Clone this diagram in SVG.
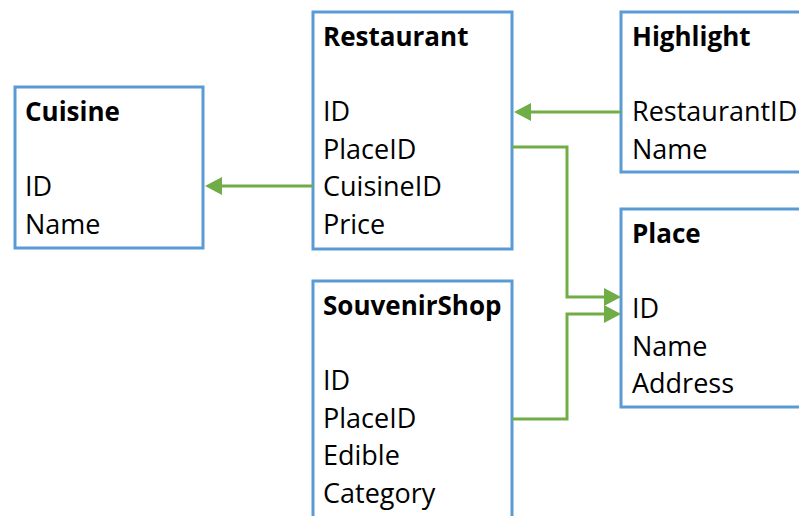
<svg xmlns="http://www.w3.org/2000/svg" width="799" height="516" viewBox="0 0 799 516">
  <style>
    .box { fill: #ffffff; stroke: #5b9bd5; stroke-width: 3; }
    .title { font-family: "Open Sans", "Noto Sans", sans-serif; font-weight: bold; font-size: 26px; fill: #000000; }
    .field { font-family: "Open Sans", "Noto Sans", sans-serif; font-size: 27px; fill: #000000; }
    .link { fill: none; stroke: #70ad47; stroke-width: 3; stroke-linejoin: miter; }
  </style>
  <defs>
    <marker id="arrow" viewBox="0 0 17 18" markerWidth="17" markerHeight="18" refX="7" refY="9" orient="auto" markerUnits="userSpaceOnUse">
      <path d="M0,0 L17,9 L0,18 z" fill="#70ad47"/>
    </marker>
  </defs>
  <rect width="799" height="516" fill="#ffffff"/>

  <!-- tables -->
  <g id="cuisine">
    <rect class="box" x="15" y="87" width="188" height="161"/>
    <text class="title" x="25" y="121">Cuisine</text>
    <text class="field" x="25" y="196">ID</text>
    <text class="field" x="25" y="234">Name</text>
  </g>

  <g id="restaurant">
    <rect class="box" x="313" y="12" width="199" height="237"/>
    <text class="title" x="323" y="46">Restaurant</text>
    <text class="field" x="323" y="121">ID</text>
    <text class="field" x="323" y="159">PlaceID</text>
    <text class="field" x="323" y="196">CuisineID</text>
    <text class="field" x="323" y="234">Price</text>
  </g>

  <g id="highlight">
    <rect class="box" x="621" y="12" width="210" height="160"/>
    <text class="title" x="632" y="46">Highlight</text>
    <text class="field" x="632" y="121">RestaurantID</text>
    <text class="field" x="632" y="159">Name</text>
  </g>

  <g id="place">
    <rect class="box" x="621" y="209" width="210" height="198"/>
    <text class="title" x="632" y="243">Place</text>
    <text class="field" x="632" y="318">ID</text>
    <text class="field" x="632" y="356">Name</text>
    <text class="field" x="632" y="393">Address</text>
  </g>

  <g id="souvenirshop">
    <rect class="box" x="313" y="281" width="199" height="260"/>
    <text class="title" x="323" y="315">SouvenirShop</text>
    <text class="field" x="323" y="390">ID</text>
    <text class="field" x="323" y="428">PlaceID</text>
    <text class="field" x="323" y="465">Edible</text>
    <text class="field" x="323" y="503">Category</text>
  </g>

  <!-- foreign-key links -->
  <g id="connectors">
    <path class="link" d="M313,186 L215,186" marker-end="url(#arrow)"/>
    <path class="link" d="M621,112 L524,112" marker-end="url(#arrow)"/>
    <path class="link" d="M512,147 L567,147 L567,297 L611,297" marker-end="url(#arrow)"/>
    <path class="link" d="M512,419 L567,419 L567,314 L611,314" marker-end="url(#arrow)"/>
  </g>
</svg>
